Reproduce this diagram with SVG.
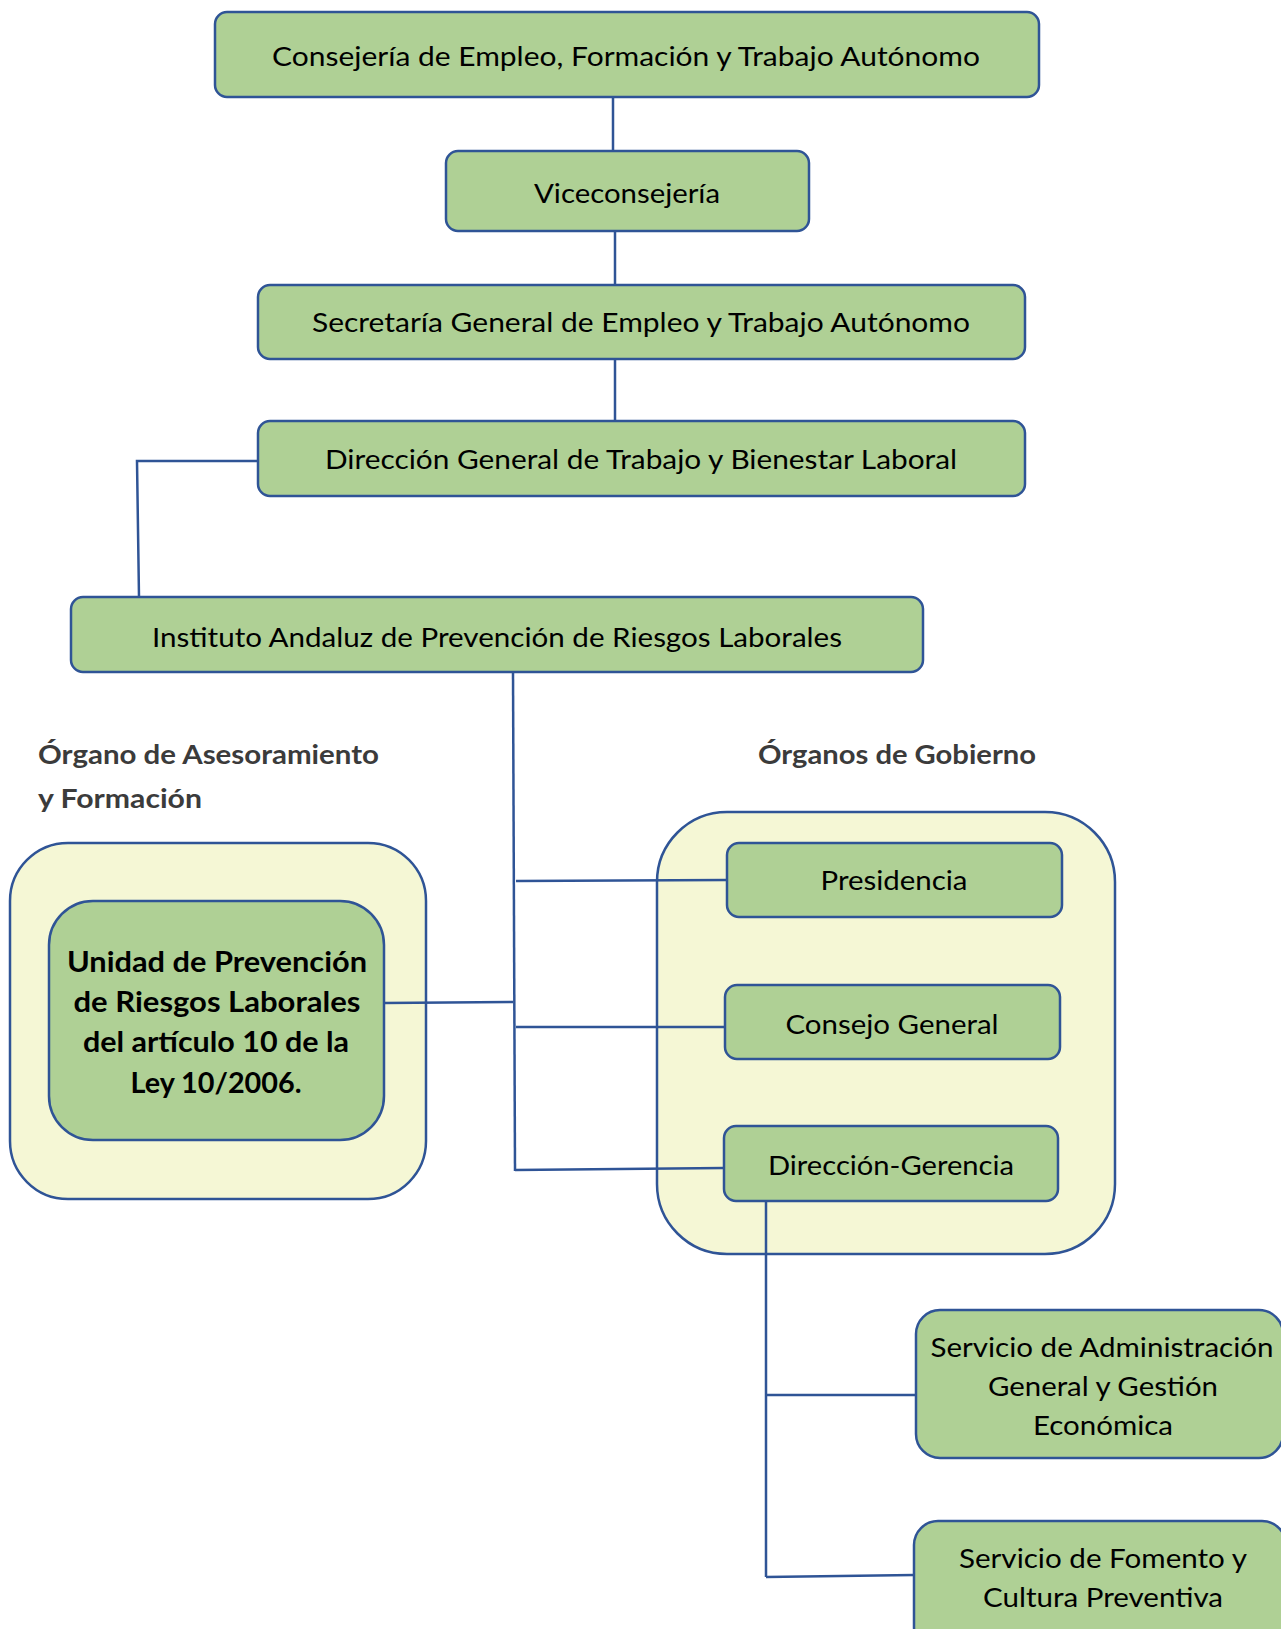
<svg xmlns="http://www.w3.org/2000/svg" width="1281" height="1629" viewBox="0 0 1281 1629">
<style>
.box{fill:#AFD095;stroke:#2F5496;stroke-width:2.5}
.cont{fill:#F5F7D5;stroke:#2F5496;stroke-width:2.5}
.t{font-family:Lato,"Open Sans","Liberation Sans",sans-serif;font-size:26.5px;fill:#000;text-anchor:middle}
.b{font-family:Lato,"Open Sans","Liberation Sans",sans-serif;font-size:28px;font-weight:bold;fill:#000;text-anchor:middle}
.h{font-family:Lato,"Open Sans","Liberation Sans",sans-serif;font-size:27px;font-weight:bold;fill:#3B3B3B}
.c{fill:none;stroke:#2F5496;stroke-width:2.5}
</style>
<rect width="1281" height="1629" fill="#FFFFFF"/>
<g id="container-asesoramiento">
<rect class="cont" x="10" y="843" width="416" height="356" rx="58"/>
</g>
<g id="container-gobierno">
<rect class="cont" x="657" y="812" width="458" height="442" rx="70"/>
</g>
<g id="connectors">
<path class="c" d="M613 97 V151"/>
<path class="c" d="M615 231 V285"/>
<path class="c" d="M615 359 V421"/>
<path class="c" d="M258 461 H137 L139 597"/>
<path class="c" d="M513 672 L515 1171"/>
<path class="c" d="M516 881 L727 880"/>
<path class="c" d="M384 1003 L513 1002"/>
<path class="c" d="M516 1027 H725"/>
<path class="c" d="M515 1170 L724 1168"/>
<path class="c" d="M766 1201 V1577"/>
<path class="c" d="M766 1395 H916"/>
<path class="c" d="M766 1577 L914 1575"/>
</g>
<g id="n-consejeria">
<rect class="box" x="215" y="12" width="824" height="85" rx="12"/>
<text class="t" x="626" y="66" textLength="708" lengthAdjust="spacingAndGlyphs">Consejería de Empleo, Formación y Trabajo Autónomo</text>
</g>
<g id="n-viceconsejeria">
<rect class="box" x="446" y="151" width="363" height="80" rx="12"/>
<text class="t" x="627" y="203" textLength="186" lengthAdjust="spacingAndGlyphs">Viceconsejería</text>
</g>
<g id="n-secretaria">
<rect class="box" x="258" y="285" width="767" height="74" rx="12"/>
<text class="t" x="641" y="332" textLength="658" lengthAdjust="spacingAndGlyphs">Secretaría General de Empleo y Trabajo Autónomo</text>
</g>
<g id="n-direccion-general">
<rect class="box" x="258" y="421" width="767" height="75" rx="12"/>
<text class="t" x="641" y="469" textLength="632" lengthAdjust="spacingAndGlyphs">Dirección General de Trabajo y Bienestar Laboral</text>
</g>
<g id="n-instituto">
<rect class="box" x="71" y="597" width="852" height="75" rx="12"/>
<text class="t" x="497" y="647" textLength="690" lengthAdjust="spacingAndGlyphs">Instituto Andaluz de Prevención de Riesgos Laborales</text>
</g>
<g id="label-asesoramiento">
<text class="h" x="38" y="764" textLength="341" lengthAdjust="spacingAndGlyphs">Órgano de Asesoramiento</text>
<text class="h" x="38" y="808" textLength="164" lengthAdjust="spacingAndGlyphs">y Formación</text>
</g>
<g id="label-gobierno">
<text class="h" x="758" y="764" textLength="278" lengthAdjust="spacingAndGlyphs">Órganos de Gobierno</text>
</g>
<g id="n-unidad">
<rect class="box" x="49" y="901" width="335" height="239" rx="44"/>
<text class="b" x="217" y="972" textLength="300" lengthAdjust="spacingAndGlyphs">Unidad de Prevención</text>
<text class="b" x="217" y="1012" textLength="287" lengthAdjust="spacingAndGlyphs">de Riesgos Laborales</text>
<text class="b" x="216" y="1052" textLength="266" lengthAdjust="spacingAndGlyphs">del artículo 10 de la</text>
<text class="b" x="216" y="1093" textLength="171" lengthAdjust="spacingAndGlyphs">Ley 10/2006.</text>
</g>
<g id="n-presidencia">
<rect class="box" x="727" y="843" width="335" height="74" rx="12"/>
<text class="t" x="894" y="890" textLength="147" lengthAdjust="spacingAndGlyphs">Presidencia</text>
</g>
<g id="n-consejo">
<rect class="box" x="725" y="985" width="335" height="74" rx="12"/>
<text class="t" x="892" y="1034" textLength="213" lengthAdjust="spacingAndGlyphs">Consejo General</text>
</g>
<g id="n-direccion-gerencia">
<rect class="box" x="724" y="1126" width="334" height="75" rx="12"/>
<text class="t" x="891" y="1175" textLength="246" lengthAdjust="spacingAndGlyphs">Dirección-Gerencia</text>
</g>
<g id="n-servicio-administracion">
<rect class="box" x="916" y="1310" width="367" height="148" rx="24"/>
<text class="t" x="1102" y="1357" textLength="343" lengthAdjust="spacingAndGlyphs">Servicio de Administración</text>
<text class="t" x="1103" y="1396" textLength="230" lengthAdjust="spacingAndGlyphs">General y Gestión</text>
<text class="t" x="1103" y="1435" textLength="140" lengthAdjust="spacingAndGlyphs">Económica</text>
</g>
<g id="n-servicio-fomento">
<rect class="box" x="914" y="1521" width="372" height="130" rx="24"/>
<text class="t" x="1103" y="1568" textLength="288" lengthAdjust="spacingAndGlyphs">Servicio de Fomento y</text>
<text class="t" x="1103" y="1607" textLength="240" lengthAdjust="spacingAndGlyphs">Cultura Preventiva</text>
</g>
</svg>
